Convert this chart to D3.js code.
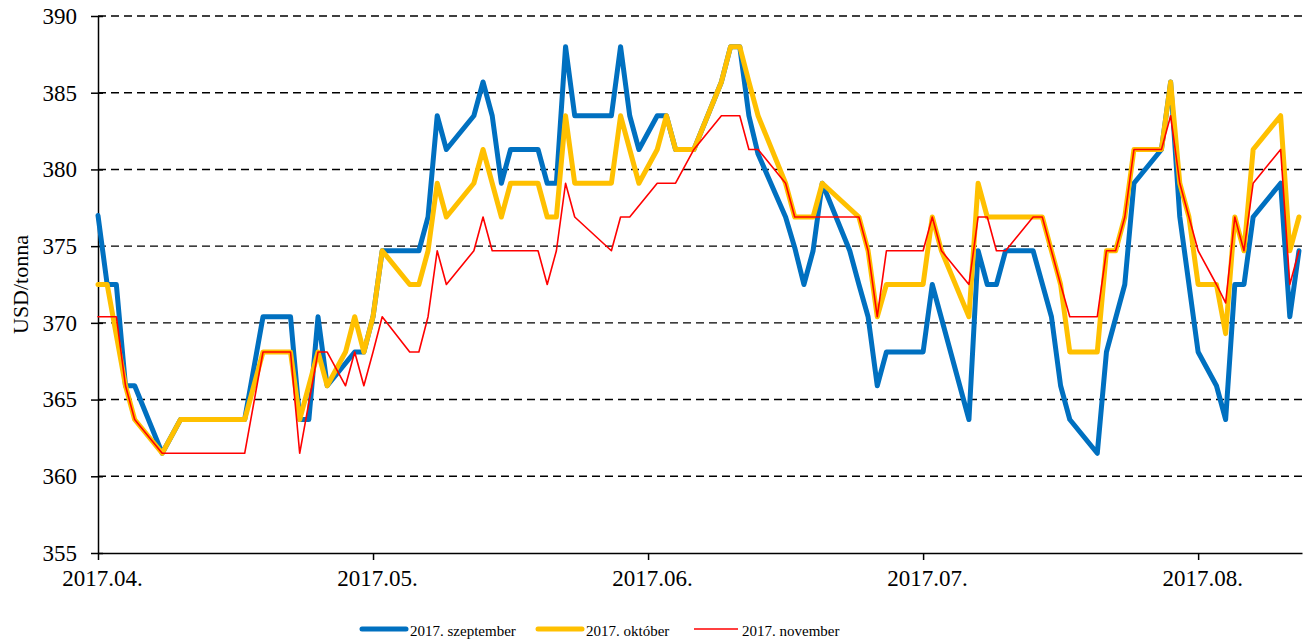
<!DOCTYPE html>
<html>
<head>
<meta charset="utf-8">
<script src="https://cdn.jsdelivr.net/npm/d3@7"></script>
<style>
  html, body { margin: 0; padding: 0; background: #fff; }
  svg { display: block; }
  text { font-family: "Liberation Serif", "Times New Roman", serif; fill: #000; }
</style>
</head>
<body>
<svg id="chart" width="1307" height="641"></svg>
<script>
// ---- data (category index = trading-day position on the category axis) ----
const xTickIdx = [0, 30, 60, 90, 120];
const xTickLabels = ["2017.04.", "2017.05.", "2017.06.", "2017.07.", "2017.08."];
const yTicks = [355, 360, 365, 370, 375, 380, 385, 390];
const seriesNames = ["2017. szeptember", "2017. október", "2017. november"];

const sepIdx = [0,1,2,3,4,7,9,16,18,21,22,23,24,25,28,29,30,31,35,36,37,38,41,42,43,44,45,48,49,50,51,52,56,57,58,59,61,62,63,65,68,69,70,71,72,75,76,77,78,79,82,83,84,85,86,90,91,95,96,97,98,99,102,104,105,106,109,110,112,113,116,117,118,120,122,123,124,125,126,129,130,131];
const sepVal = [377.0,372.5,372.5,365.9,365.9,361.5,363.7,363.7,370.4,370.4,363.7,363.7,370.4,365.9,368.1,368.1,370.4,374.7,374.7,376.9,383.5,381.3,383.5,385.7,383.5,379.1,381.3,381.3,379.1,379.1,388.0,383.5,383.5,388.0,383.5,381.3,383.5,383.5,381.3,381.3,385.7,388.0,388.0,383.5,381.0,376.9,374.9,372.5,374.7,379.1,374.7,372.5,370.4,365.9,368.1,368.1,372.5,363.7,374.7,372.5,372.5,374.7,374.7,370.4,365.9,363.7,361.5,368.1,372.5,379.1,381.3,385.7,376.9,368.1,365.9,363.7,372.5,372.5,376.9,379.1,370.4,374.7];

const octIdx = [0,1,3,4,7,9,16,18,21,22,24,25,27,28,29,30,31,34,35,36,37,38,41,42,44,45,48,49,50,51,52,56,57,59,61,62,63,65,68,69,70,71,72,75,76,78,79,83,84,85,86,90,91,92,95,96,97,103,105,106,109,110,111,112,113,116,117,118,119,120,122,123,124,125,126,129,130,131];
const octVal = [372.5,372.5,365.9,363.7,361.5,363.7,363.7,368.1,368.1,363.7,368.1,365.9,368.1,370.4,368.1,370.4,374.7,372.5,372.5,374.7,379.1,376.9,379.1,381.3,376.9,379.1,379.1,376.9,376.9,383.5,379.1,379.1,383.5,379.1,381.3,383.5,381.3,381.3,385.7,388.0,388.0,385.7,383.5,379.1,376.9,376.9,379.1,376.9,374.7,370.4,372.5,372.5,376.9,374.7,370.4,379.1,376.9,376.9,372.5,368.1,368.1,374.7,374.7,376.9,381.3,381.3,385.7,379.1,376.9,372.5,372.5,369.3,376.9,374.7,381.3,383.5,374.7,376.9];

const novIdx = [0,2,3,4,7,16,18,21,22,24,25,27,28,29,30,31,34,35,36,37,38,41,42,43,48,49,50,51,52,56,57,58,61,63,65,68,70,71,72,75,76,83,84,85,86,90,91,92,95,96,97,98,99,102,103,105,106,109,110,111,112,113,116,117,118,119,120,122,123,124,125,126,129,130,131];
const novVal = [370.4,370.4,365.9,363.7,361.5,361.5,368.1,368.1,361.5,368.1,368.1,365.9,368.1,365.9,368.1,370.4,368.1,368.1,370.4,374.7,372.5,374.7,376.9,374.7,374.7,372.5,374.7,379.1,376.9,374.7,376.9,376.9,379.1,379.1,381.3,383.5,383.5,381.3,381.3,379.1,376.9,376.9,374.7,370.4,374.7,374.7,376.9,374.7,372.5,376.9,376.9,374.7,374.7,376.9,376.9,372.5,370.4,370.4,374.7,374.7,376.9,381.3,381.3,383.5,379.1,376.9,374.7,372.5,371.3,376.9,374.7,379.1,381.3,372.5,374.7];

(function () {
  // ---- layout ----
  const plotL = 98, plotR = 1302, plotT = 16, plotB = 553;
  const svg = d3.select("#chart");
  svg.append("rect").attr("width", 1307).attr("height", 641).attr("fill", "#fff");

  const x = d3.scaleLinear().domain([0, 131.33]).range([plotL, plotR]);
  const y = d3.scaleLinear().domain([355, 390]).range([plotB, plotT]);

  // gridlines
  svg.append("g").selectAll("line")
    .data(yTicks.filter(v => v > 355))
    .join("line")
    .attr("x1", plotL).attr("x2", plotR)
    .attr("y1", d => y(d)).attr("y2", d => y(d))
    .attr("stroke", "#000").attr("stroke-width", 1.4)
    .attr("stroke-dasharray", "8,5");

  // y axis
  const yAxis = svg.append("g")
    .attr("transform", `translate(${plotL},0)`)
    .call(d3.axisLeft(y).tickValues(yTicks).tickSize(7).tickSizeOuter(0).tickPadding(14));
  yAxis.select(".domain").attr("stroke", "#000").attr("stroke-width", 1.5);
  yAxis.selectAll(".tick line").attr("x1", 5).attr("stroke-width", 1.5);
  yAxis.selectAll(".tick text")
    .style("font-family", '"Liberation Serif", "Times New Roman", serif')
    .style("font-size", "23px").attr("fill", "#000");

  // x axis
  const xAxis = svg.append("g")
    .attr("transform", `translate(0,${plotB})`)
    .call(d3.axisBottom(x).tickValues(xTickIdx)
      .tickFormat((d, i) => xTickLabels[i]).tickSize(7).tickSizeOuter(0).tickPadding(10));
  xAxis.select(".domain").attr("stroke", "#000").attr("stroke-width", 1.5);
  xAxis.selectAll(".tick line").attr("stroke-width", 1.5);
  xAxis.selectAll(".tick text")
    .style("font-family", '"Liberation Serif", "Times New Roman", serif')
    .style("font-size", "23px").attr("fill", "#000").attr("dx", 4);

  // y title
  svg.append("text")
    .attr("transform", `translate(28,${(plotT + plotB) / 2}) rotate(-90)`)
    .attr("text-anchor", "middle")
    .style("font-size", "22px")
    .text("USD/tonna");

  // series
  const series = [
    { name: seriesNames[0], idx: sepIdx, val: sepVal, color: "#0070C0", width: 5 },
    { name: seriesNames[1], idx: octIdx, val: octVal, color: "#FFC000", width: 5 },
    { name: seriesNames[2], idx: novIdx, val: novVal, color: "#FF0000", width: 1.6 }
  ];
  const line = d3.line().x(d => x(d[0])).y(d => y(d[1]));
  series.forEach(s => {
    const pts = s.idx.map((k, i) => [k, s.val[i]]);
    svg.append("path")
      .datum(pts)
      .attr("d", line)
      .attr("fill", "none")
      .attr("stroke", s.color)
      .attr("stroke-width", s.width)
      .attr("stroke-linejoin", "round")
      .attr("stroke-linecap", "round");
  });

  // legend
  const legendX = [362, 538, 694];
  const leg = svg.append("g");
  series.forEach((s, i) => {
    const g = leg.append("g").attr("transform", `translate(${legendX[i]},629)`);
    g.append("line").attr("x1", 0).attr("x2", 44).attr("y1", 0).attr("y2", 0)
      .attr("stroke", s.color).attr("stroke-width", s.width === 5 ? 5 : 1.6)
      .attr("stroke-linecap", s.width === 5 ? "round" : "butt");
    g.append("text").attr("x", 48).attr("y", 7)
      .style("font-size", "15px").text(s.name);
  });
})();
</script>
</body>
</html>
